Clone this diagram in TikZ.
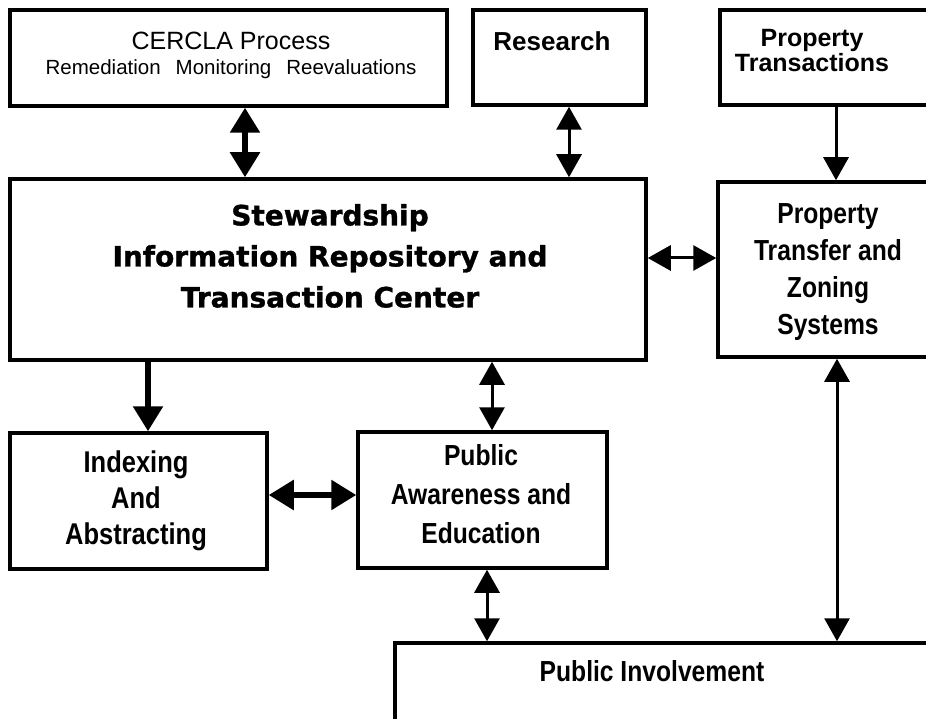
\documentclass[tikz,border=0pt]{standalone}
\usepackage{fontspec}
\setmainfont{Liberation Sans}
\newfontfamily\narrowsf[FakeStretch=0.85]{Liberation Sans}
\newfontfamily\widesf[FakeBold=1.2]{DejaVu Sans}
\usetikzlibrary{arrows.meta}
\begin{document}
\begin{tikzpicture}[x=1pt, y=-1pt,
  box/.style={draw, line width=3.5pt, inner sep=0pt},
  lbl/.style={align=center, font=\narrowsf\bfseries\fontsize{29}{37}\selectfont},
  toplbl/.style={align=center, font=\bfseries\fontsize{25}{25}\selectfont},
  link/.style={line width=3pt, >={Triangle[length=23pt,width=25pt]}},
  heavylink/.style={line width=5.5pt, >={Triangle[length=25pt,width=29pt]}}]

\useasboundingbox (0,0) rectangle (926,719);
\clip (0,0) rectangle (926,719);

% top row
\node [box, minimum width=437pt, minimum height=96pt] (cercla) at (228.5,58) {};
\node [align=center, font=\fontsize{25}{25}\selectfont] (cerclalbl) at (231,55)
  {CERCLA Process\\ \fontsize{20.5}{25}\selectfont Remediation\hspace{15pt}Monitoring\hspace{15pt}Reevaluations};
\node [box, minimum width=173pt, minimum height=95pt] (research) at (559.5,57.5) {};
\node [toplbl, font=\bfseries\fontsize{26}{25}\selectfont] (researchlbl) at (552,41) {Research};
\node [box, minimum width=225pt, minimum height=95pt] (proptrans) at (832.5,57.5) {};
\node [toplbl] (proptranslbl) at (812,51) {Property\\Transactions};

% middle row
\node [box, minimum width=636pt, minimum height=181pt] (stew) at (328,269.5) {};
\node [align=center, font=\widesf\bfseries\fontsize{28}{41}\selectfont] (stewlbl) at (330,256)
  {Stewardship\\Information Repository and\\Transaction Center};
\node [box, minimum width=227pt, minimum height=175pt] (proptransfer) at (831.5,269.5) {};
\node [lbl] (proptransferlbl) at (828,272) {Property\\Transfer and\\Zoning\\Systems};

% lower row
\node [box, minimum width=257pt, minimum height=136pt] (indexing) at (138.5,501) {};
\node [lbl, font=\narrowsf\bfseries\fontsize{30}{36}\selectfont] (indexinglbl) at (136,501) {Indexing\\And\\Abstracting};
\node [box, minimum width=249pt, minimum height=136pt] (pubaware) at (482.5,500) {};
\node [lbl, font=\narrowsf\bfseries\fontsize{29}{39}\selectfont] (pubawarelbl) at (481,494) {Public\\Awareness and\\Education};
\node [box, minimum width=540pt, minimum height=140pt] (pubinv) at (665,713) {};
\node [lbl] (pubinvlbl) at (652,671.5) {Public Involvement};

% connectors
\draw [heavylink, <->] (245,0 |- cercla.south) -- (245,0 |- stew.north);
\draw [link, <->] (569,0 |- research.south) -- (569,0 |- stew.north);
\draw [link, ->] (836,0 |- proptrans.south) -- (836,0 |- proptransfer.north);
\draw [link, <->] (stew.east |- 0,258) -- (proptransfer.west |- 0,258);
\draw [heavylink, ->] (148,0 |- stew.south) -- (148,0 |- indexing.north);
\draw [link, <->] (492,0 |- stew.south) -- (492,0 |- pubaware.north);
\draw [heavylink, <->] (indexing.east |- 0,495) -- (pubaware.west |- 0,495);
\draw [link, <->] (487,0 |- pubaware.south) -- (487,0 |- pubinv.north);
\draw [link, <->] (837,0 |- proptransfer.south) -- (837,0 |- pubinv.north);

\end{tikzpicture}
\end{document}
